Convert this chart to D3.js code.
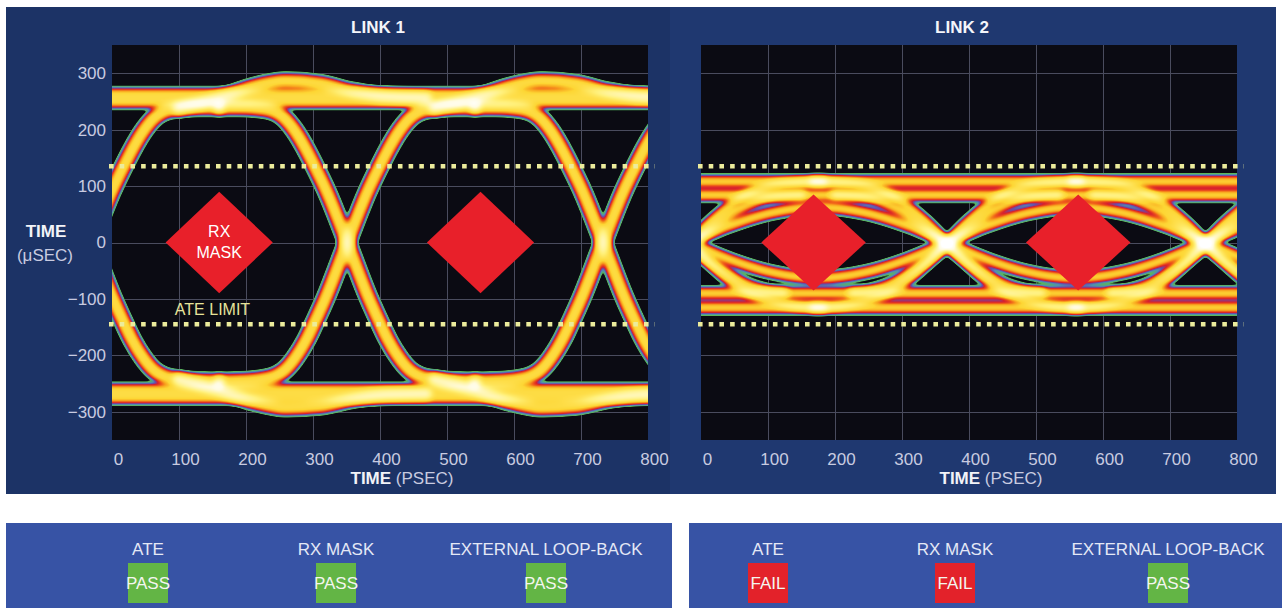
<!DOCTYPE html>
<html>
<head>
<meta charset="utf-8">
<script src="https://cdn.jsdelivr.net/npm/d3@7"></script>
<style>
  html, body { margin: 0; padding: 0; background: #ffffff; }
  svg { display: block; }
  text { font-family: "Liberation Sans", Arial, Helvetica, sans-serif; }
</style>
</head>
<body>
<svg id="chart" width="1282" height="608"></svg>
<script>
// ---------------- data ----------------
const xTicks = [0, 100, 200, 300, 400, 500, 600, 700, 800];   // time, ps
const yTicks = [-300, -200, -100, 0, 100, 200, 300];
const ateLimits = [135, -145];

// LINK 1: open eye
const link1Crossings = [-31, 351, 733];
const link1Rails = [256, -268];
const link1Rise = [[-190,-247],[-160,-246],[-130,-243],[-110,-238],[-95,-228],[-78,-205],[-60,-170],[-48,-140],[-31,-95],[0,0],[31,92],[48,134],[60,162],[78,198],[95,222],[110,233],[130,238],[160,240],[190,240]];
const link1Fall = [[-190,240],[-160,240],[-130,238],[-110,233],[-95,222],[-78,198],[-60,162],[-48,134],[-31,92],[0,0],[31,-95],[48,-140],[60,-170],[78,-205],[95,-228],[110,-238],[130,-243],[160,-246],[190,-247]];
const link1RiseSettle = [[130,238],[190,256],[240,276],[290,286],[340,282],[390,268],[440,259],[500,256]];
const link1FallSettle = [[130,-243],[190,-262],[240,-282],[290,-293],[340,-290],[390,-278],[440,-270],[500,-268]];
const link1Masks = [160, 550];
const link1MaskHalf = [80, 90];

// LINK 2: closed eye
const link2Crossings = [-17, 367, 753];
const link2Rails = [108, 84, -90, -115];
const link2RiseOuter = [[-200,-115],[-160,-112],[-120,-102],[-90,-90],[-60,-68],[-30,-37],[0,0],[30,36],[60,66],[90,88],[120,100],[160,106],[200,108]];
const link2FallOuter = [[-200,108],[-160,106],[-120,100],[-90,88],[-60,66],[-30,36],[0,0],[30,-37],[60,-68],[90,-90],[120,-102],[160,-112],[200,-115]];
const link2RiseInner = [[-142,-89],[-112,-84],[-82,-72],[-52,-50],[-22,-27],[8,0],[38,30],[68,55],[98,72],[128,81],[168,84]];
const link2FallInner = [[-168,84],[-128,81],[-98,72],[-68,55],[-38,30],[-8,0],[22,-27],[52,-50],[82,-72],[112,-84],[142,-89]];
const link2PulseHigh = [[0,0],[60,30],[120,52],[192,63],[265,52],[325,30],[385,0]];
const link2PulseLow = [[0,0],[60,-30],[120,-52],[192,-63],[265,-52],[325,-30],[385,0]];
const link2Masks = [168, 563];
const link2MaskHalf = [78, 85];

// test summary
const statusNames = ["ATE", "RX MASK", "EXTERNAL LOOP-BACK"];
const link1Status = ["PASS", "PASS", "PASS"];
const link2Status = ["FAIL", "FAIL", "PASS"];

// ---------------- layout / style ----------------
const plotTop = 45, plotW = 536, plotH = 395;
const heatStops  = [0.05, 0.09, 0.18, 0.26, 0.36, 0.5, 0.66, 0.85, 1.5, 2.3, 3.0];
const heatColors = ["#3a8a40", "#5bb55c", "#4f8fb0", "#6a4aa8", "#d8202c", "#ef5a1a", "#f8a41e", "#fdd634", "#fff07a", "#fffbe0", "#ffffff"];

const svg = d3.select("#chart");

// dark blue chart panels
svg.append("rect").attr("x", 6).attr("y", 7).attr("width", 664).attr("height", 487).attr("fill", "#1c3366");
svg.append("rect").attr("x", 670).attr("y", 7).attr("width", 606).attr("height", 487).attr("fill", "#1f3870");

// summary panels
svg.append("rect").attr("x", 6).attr("y", 523).attr("width", 666).attr("height", 85).attr("fill", "#3753a5");
svg.append("rect").attr("x", 689).attr("y", 523).attr("width", 593).attr("height", 85).attr("fill", "#3753a5");

// ---------------- eye density rendering ----------------
function boxBlur(src, w, h, r) {
  const tmp = new Float32Array(w * h), out = new Float32Array(w * h);
  const n = 2 * r + 1;
  for (let yy = 0; yy < h; yy++) {
    const row = yy * w;
    let s = 0;
    for (let k = -r; k <= r; k++) s += src[row + Math.min(w - 1, Math.max(0, k))];
    for (let xx = 0; xx < w; xx++) {
      tmp[row + xx] = s / n;
      s += src[row + Math.min(w - 1, xx + r + 1)] - src[row + Math.max(0, xx - r)];
    }
  }
  for (let xx = 0; xx < w; xx++) {
    let s = 0;
    for (let k = -r; k <= r; k++) s += tmp[Math.min(h - 1, Math.max(0, k)) * w + xx];
    for (let yy = 0; yy < h; yy++) {
      out[yy * w + xx] = s / n;
      s += tmp[Math.min(h - 1, yy + r + 1) * w + xx] - tmp[Math.max(0, yy - r) * w + xx];
    }
  }
  return out;
}

const heatScale = d3.scaleLinear().domain(heatStops).range(heatColors).interpolate(d3.interpolateRgb).clamp(true);
const LUT_MAX = 3, LUT_N = 768;
const lut = d3.range(LUT_N).map(i => d3.rgb(heatScale(i / (LUT_N - 1) * LUT_MAX)));

// traces: {pts, w} or {rail, w}; each adds density where it is stroked
function renderEye(traces, xs, ys) {
  const m = 16, cw = plotW + 2 * m, ch = plotH + 2 * m;
  const canvas = document.createElement("canvas");
  canvas.width = cw; canvas.height = ch;
  const ctx = canvas.getContext("2d");
  const xL = xs.copy().range([m, m + plotW]);
  const yL = ys.copy().range([m + plotH, m]);
  ctx.globalCompositeOperation = "lighter";
  ctx.strokeStyle = "rgba(255,255,255,0.25)";
  ctx.lineJoin = "round";
  ctx.lineCap = "round";
  const line = d3.line().x(d => xL(d[0])).y(d => yL(d[1])).curve(d3.curveMonotoneX).context(ctx);
  traces.forEach(t => {
    const pts = t.rail !== undefined ? [[xL.invert(0), t.rail], [xL.invert(cw), t.rail]] : t.pts;
    ctx.lineWidth = t.w;
    ctx.beginPath(); line(pts); ctx.stroke();
  });
  const img = ctx.getImageData(0, 0, cw, ch).data;
  let dens = new Float32Array(cw * ch);
  for (let i = 0; i < cw * ch; i++) dens[i] = img[i * 4 + 3] / 64;
  dens = boxBlur(dens, cw, ch, 3);
  dens = boxBlur(dens, cw, ch, 3);

  const out = document.createElement("canvas");
  out.width = plotW; out.height = plotH;
  const octx = out.getContext("2d");
  const od = octx.createImageData(plotW, plotH);
  for (let yy = 0; yy < plotH; yy++) {
    for (let xx = 0; xx < plotW; xx++) {
      const v = dens[(yy + m) * cw + xx + m];
      const o = (yy * plotW + xx) * 4;
      if (v < heatStops[0]) { od.data[o + 3] = 0; continue; }
      const c = lut[Math.min(LUT_N - 1, Math.round(v / LUT_MAX * (LUT_N - 1)))];
      od.data[o] = c.r; od.data[o + 1] = c.g; od.data[o + 2] = c.b;
      od.data[o + 3] = Math.round(255 * Math.min(1, (v - heatStops[0]) / (heatStops[1] - heatStops[0])));
    }
  }
  octx.putImageData(od, 0, 0);
  return out.toDataURL();
}

function shift(profile, c, w) { return { pts: profile.map(([dt, v]) => [c + dt, v]), w: w }; }

const link1Traces = [
  ...link1Rails.map(v => ({ rail: v, w: 16 })),
  ...link1Crossings.flatMap(c => [
    shift(link1Rise, c, 12), shift(link1Fall, c, 12),
    shift(link1RiseSettle, c, 11), shift(link1FallSettle, c, 11)
  ])
];
const link2Traces = [
  ...link2Rails.map(v => ({ rail: v, w: 8 })),
  ...link2Crossings.flatMap(c => [
    shift(link2RiseOuter, c, 7), shift(link2FallOuter, c, 7),
    shift(link2RiseInner, c, 7), shift(link2FallInner, c, 7),
    shift(link2PulseHigh, c, 8), shift(link2PulseLow, c, 8)
  ])
];

// ---------------- plots ----------------
const plots = [
  { left: 112, title: "LINK 1", titleX: 378, traces: link1Traces, masks: link1Masks, half: link1MaskHalf, yLabels: true, maskText: true, status: link1Status, statusX: [148, 336, 546] },
  { left: 701, title: "LINK 2", titleX: 962, traces: link2Traces, masks: link2Masks, half: link2MaskHalf, yLabels: false, maskText: false, status: link2Status, statusX: [768, 955, 1168] }
];

plots.forEach(p => {
  const x = d3.scaleLinear().domain([0, 800]).range([p.left, p.left + plotW]);
  const y = d3.scaleLinear().domain([-350, 350]).range([plotTop + plotH, plotTop]);
  const g = svg.append("g");

  g.append("text").attr("x", p.titleX).attr("y", 33).attr("text-anchor", "middle")
    .attr("font-size", 17).attr("font-weight", "bold").attr("fill", "#f4f5fa").text(p.title);

  g.append("rect").attr("x", p.left).attr("y", plotTop).attr("width", plotW).attr("height", plotH).attr("fill", "#0b0b13");

  // grid
  const grid = g.append("g").attr("stroke", "#4a4c5e").attr("stroke-width", 1);
  grid.selectAll("line.v").data(xTicks.slice(1, -1)).join("line")
    .attr("x1", d => x(d) + 0.5).attr("x2", d => x(d) + 0.5).attr("y1", plotTop).attr("y2", plotTop + plotH);
  grid.selectAll("line.h").data(yTicks).join("line")
    .attr("x1", p.left).attr("x2", p.left + plotW).attr("y1", d => Math.round(y(d)) + 0.5).attr("y2", d => Math.round(y(d)) + 0.5);

  // eye density
  g.append("image").attr("x", p.left).attr("y", plotTop).attr("width", plotW).attr("height", plotH)
    .attr("preserveAspectRatio", "none").attr("href", renderEye(p.traces, x, y));

  // ATE limits
  g.selectAll("line.ate").data(ateLimits).join("line")
    .attr("x1", x(0) - 3).attr("x2", x(800) + 7)
    .attr("y1", d => y(d)).attr("y2", d => y(d))
    .attr("stroke", "#ecec9c").attr("stroke-width", 4.5).attr("stroke-dasharray", "4.6 6.1");

  // RX masks
  g.selectAll("path.mask").data(p.masks).join("path")
    .attr("d", c => d3.line()([[x(c - p.half[0]), y(0)], [x(c), y(p.half[1])], [x(c + p.half[0]), y(0)], [x(c), y(-p.half[1])]]) + "Z")
    .attr("fill", "#e8202a");

  if (p.maskText) {
    const mt = g.append("text").attr("text-anchor", "middle").attr("font-size", 16).attr("fill", "#ffffff");
    mt.append("tspan").attr("x", x(p.masks[0])).attr("y", y(0) - 6).text("RX");
    mt.append("tspan").attr("x", x(p.masks[0])).attr("y", y(0) + 15).text("MASK");
    g.append("text").attr("x", x(150)).attr("y", y(ateLimits[1]) - 9).attr("text-anchor", "middle")
      .attr("font-size", 16).attr("fill", "#e6e39a").text("ATE LIMIT");
  }

  // x axis
  const xa = g.append("g").attr("transform", `translate(0,${plotTop + plotH})`)
    .call(d3.axisBottom(x).tickValues(xTicks).tickSize(0).tickPadding(13));
  xa.select(".domain").remove();
  xa.selectAll("text").attr("dx", 6).attr("font-size", 17).attr("fill", "#c8cbe0").attr("font-family", null);

  const xt = g.append("text").attr("x", p.left + 290).attr("y", 484).attr("text-anchor", "middle").attr("font-size", 17);
  xt.append("tspan").attr("font-weight", "bold").attr("fill", "#f2f3f8").text("TIME ");
  xt.append("tspan").attr("fill", "#c8cbe0").text("(PSEC)");

  if (p.yLabels) {
    const ya = g.append("g").attr("transform", `translate(${p.left},0)`)
      .call(d3.axisLeft(y).tickValues(yTicks).tickSize(0).tickPadding(6)
        .tickFormat(d => d < 0 ? "\u2212" + Math.abs(d) : String(d)));
    ya.select(".domain").remove();
    ya.selectAll("text").attr("font-size", 17).attr("fill", "#c8cbe0").attr("font-family", null);
    g.append("text").attr("x", 46).attr("y", 237).attr("text-anchor", "middle").attr("font-size", 17)
      .attr("font-weight", "bold").attr("fill", "#f2f3f8").text("TIME");
    g.append("text").attr("x", 45).attr("y", 261).attr("text-anchor", "middle").attr("font-size", 17)
      .attr("fill", "#c8cbe0").text("(\u03bcSEC)");
  }

  // summary row
  const s = svg.append("g");
  statusNames.forEach((name, i) => {
    const cx = p.statusX[i];
    s.append("text").attr("x", cx).attr("y", 555).attr("text-anchor", "middle").attr("font-size", 17)
      .attr("fill", "#e4e8f6").text(name);
    const pass = p.status[i] === "PASS";
    s.append("rect").attr("x", cx - 20).attr("y", 563).attr("width", 40).attr("height", 40)
      .attr("fill", pass ? "#63b545" : "#e3222a");
    s.append("text").attr("x", cx).attr("y", 589).attr("text-anchor", "middle").attr("font-size", 17)
      .attr("fill", "#f4f6f0").text(p.status[i]);
  });
});
</script>
</body>
</html>
